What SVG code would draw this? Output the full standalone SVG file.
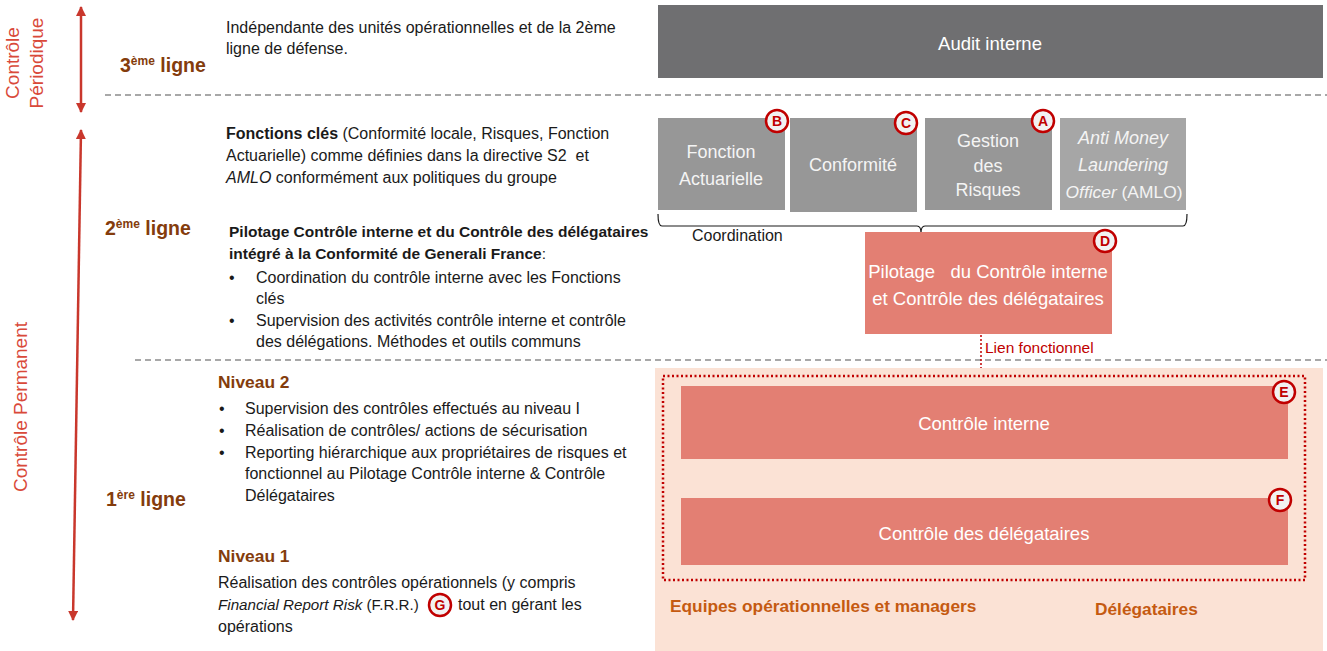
<svg xmlns="http://www.w3.org/2000/svg" width="1327" height="651" viewBox="0 0 1327 651">
<defs>
<style>
.t{font-family:"Liberation Sans",Arial,sans-serif;font-size:16px;fill:#1a1a1a}
.pb{font-size:15.5px}
.b{font-weight:bold}
.i{font-style:italic}
.lvl{font-family:"Liberation Sans",Arial,sans-serif;font-size:19.5px;font-weight:bold;fill:#843c0c}
.niv{font-family:"Liberation Sans",Arial,sans-serif;font-size:17.4px;font-weight:bold;fill:#843c0c}
.rot{font-family:"Liberation Sans",Arial,sans-serif;font-size:19px;fill:#d9493a;text-anchor:middle}
.wt{font-family:"Liberation Sans",Arial,sans-serif;font-size:18.5px;fill:#ffffff;text-anchor:middle}
.gt{font-family:"Liberation Sans",Arial,sans-serif;font-size:18px;fill:#f4f4f4;text-anchor:middle}
.bd circle{fill:#f2f2f2;stroke:#c00000;stroke-width:2.5}
.bd text{font-family:"Liberation Sans",Arial,sans-serif;font-size:14px;font-weight:bold;fill:#c00000;text-anchor:middle}
.dash{stroke:#8c8c8c;stroke-width:1.5;stroke-dasharray:6 4;fill:none}
.org{font-family:"Liberation Sans",Arial,sans-serif;font-size:17.3px;font-weight:bold;fill:#c55a11}
</style>
<marker id="ah" viewBox="0 0 10 10" refX="9" refY="5" markerWidth="4" markerHeight="4" orient="auto-start-reverse">
<path d="M0,0 L10,5 L0,10 z" fill="#c9372c"/>
</marker>
</defs>
<rect width="1327" height="651" fill="#ffffff"/>

<g id="axis">
<line x1="81" y1="7" x2="81" y2="112" stroke="#c9372c" stroke-width="2.5" marker-start="url(#ah)" marker-end="url(#ah)"/>
<line x1="81" y1="130" x2="73" y2="620" stroke="#c9372c" stroke-width="2.5" marker-start="url(#ah)" marker-end="url(#ah)"/>
<text class="rot" x="19" y="63" transform="rotate(-90 19 63)">Contrôle</text>
<text class="rot" x="43" y="63" transform="rotate(-90 43 63)">Périodique</text>
<text class="rot" x="27" y="407" transform="rotate(-90 27 407)">Contrôle Permanent</text>
</g>

<g id="separators">
<line class="dash" x1="105" y1="95" x2="1327" y2="95"/>
<line class="dash" x1="135" y1="360" x2="1327" y2="360"/>
</g>

<g id="line-labels">
<text class="lvl" x="120" y="72">3<tspan font-size="12" dy="-7">ème</tspan><tspan dy="7"> ligne</tspan></text>
<text class="lvl" x="105" y="235">2<tspan font-size="12" dy="-7">ème</tspan><tspan dy="7"> ligne</tspan></text>
<text class="lvl" x="106" y="506">1<tspan font-size="12" dy="-7">ère</tspan><tspan dy="7"> ligne</tspan></text>
</g>

<g id="text-3">
<text class="t" x="226" y="33">Indépendante des unités opérationnelles et de la 2ème</text>
<text class="t" x="226" y="54">ligne de défense.</text>
</g>

<g id="text-2">
<text class="t" x="226" y="139"><tspan class="b">Fonctions clés</tspan> (Conformité locale, Risques, Fonction</text>
<text class="t" x="226" y="161" xml:space="preserve">Actuarielle) comme définies dans la directive S2  et</text>
<text class="t" x="226" y="183"><tspan class="i">AMLO</tspan> conformément aux politiques du groupe</text>
<text class="t pb b" x="229" y="237">Pilotage Contrôle interne et du Contrôle des délégataires</text>
<text class="t pb" x="229" y="259"><tspan class="b">intégré à la Conformité de Generali France</tspan>:</text>
<text class="t" x="229" y="283">•</text>
<text class="t" x="256" y="283">Coordination du contrôle interne avec les Fonctions</text>
<text class="t" x="256" y="304">clés</text>
<text class="t" x="229" y="326">•</text>
<text class="t" x="256" y="326">Supervision des activités contrôle interne et contrôle</text>
<text class="t" x="256" y="347">des délégations. Méthodes et outils communs</text>
</g>

<g id="text-1">
<text class="niv" x="218" y="388">Niveau 2</text>
<text class="t" x="219" y="414">•</text>
<text class="t" x="245" y="414">Supervision des contrôles effectués au niveau I</text>
<text class="t" x="219" y="436">•</text>
<text class="t" x="245" y="436">Réalisation de contrôles/ actions de sécurisation</text>
<text class="t" x="219" y="458">•</text>
<text class="t" x="245" y="458">Reporting hiérarchique aux propriétaires de risques et</text>
<text class="t" x="245" y="479">fonctionnel au Pilotage Contrôle interne &amp; Contrôle</text>
<text class="t" x="245" y="501">Délégataires</text>
<text class="niv" x="218" y="562">Niveau 1</text>
<text class="t" x="218" y="588">Réalisation des contrôles opérationnels (y compris</text>
<text class="t" x="218" y="610" style="font-size:15.2px"><tspan class="i">Financial Report Risk</tspan> (F.R.R.)</text>
<text class="t" x="458" y="610">tout en gérant les</text>
<text class="t" x="218" y="632">opérations</text>
</g>

<g id="audit-interne">
<rect x="658" y="5" width="665" height="73" fill="#6f6f71"/>
<text class="wt" x="990" y="50">Audit interne</text>
</g>

<g id="fonction-actuarielle">
<rect x="658" y="118" width="127" height="92" fill="#979797"/>
<text class="gt" x="721" y="158">Fonction</text>
<text class="gt" x="721" y="185">Actuarielle</text>
</g>
<g id="conformite">
<rect x="790" y="118" width="127" height="94" fill="#979797"/>
<text class="gt" x="853" y="171">Conformité</text>
</g>
<g id="gestion-risques">
<rect x="925" y="118" width="127" height="92" fill="#979797"/>
<text class="gt" x="988" y="147">Gestion</text>
<text class="gt" x="988" y="172">des</text>
<text class="gt" x="988" y="196">Risques</text>
</g>
<g id="amlo">
<rect x="1060" y="118" width="126" height="92" fill="#a6a6a6"/>
<text class="gt i" x="1123" y="144">Anti Money</text>
<text class="gt i" x="1123" y="171">Laundering</text>
<text class="gt" x="1124" y="198" style="font-size:17.4px"><tspan class="i">Officer</tspan> (AMLO)</text>
</g>

<g id="connectors">
<path d="M658,214 Q658,226 662,226 L917,226 Q921,226 921,233 Q921,226 925,226 L1183,226 Q1187,226 1187,214" fill="none" stroke="#1a1a1a" stroke-width="1.2"/>
<line x1="981" y1="335" x2="981" y2="376" stroke="#c00000" stroke-width="1.5" stroke-dasharray="2 2"/>
</g>
<text class="t" x="692" y="241">Coordination</text>

<g id="pilotage">
<rect x="865" y="232" width="247" height="102" fill="#e37f73"/>
<text class="wt" x="988" y="278" xml:space="preserve">Pilotage   du Contrôle interne</text>
<text class="wt" x="988" y="305">et Contrôle des délégataires</text>
</g>
<text x="985" y="353" font-family="Liberation Sans, Arial, sans-serif" font-size="15.5" fill="#c00000">Lien fonctionnel</text>

<g id="premiere-ligne-zone">
<rect x="655" y="368" width="668" height="283" fill="#fbe2d5"/>
<rect x="663" y="376" width="642" height="204" fill="none" stroke="#c00000" stroke-width="2.5" stroke-dasharray="2 2.5"/>
<text class="org" x="670" y="612">Equipes opérationnelles et managers</text>
<text class="org" x="1095" y="615">Délégataires</text>
</g>
<g id="controle-interne">
<rect x="681" y="386" width="607" height="73" fill="#e37f73"/>
<text class="wt" x="984" y="430">Contrôle interne</text>
</g>
<g id="controle-delegataires">
<rect x="681" y="498" width="607" height="67" fill="#e37f73"/>
<text class="wt" x="984" y="540">Contrôle des délégataires</text>
</g>

<g id="badges" class="bd">
<g><circle cx="777" cy="121" r="11"/><text x="777" y="126">B</text></g>
<g><circle cx="906" cy="123" r="11"/><text x="906" y="128">C</text></g>
<g><circle cx="1043" cy="121" r="11"/><text x="1043" y="126">A</text></g>
<g><circle cx="1105" cy="241" r="11"/><text x="1105" y="246">D</text></g>
<g><circle cx="1284" cy="392" r="11"/><text x="1284" y="397">E</text></g>
<g><circle cx="1280" cy="500" r="11"/><text x="1280" y="505">F</text></g>
<g><circle cx="440" cy="605" r="11"/><text x="440" y="610">G</text></g>
</g>
</svg>
